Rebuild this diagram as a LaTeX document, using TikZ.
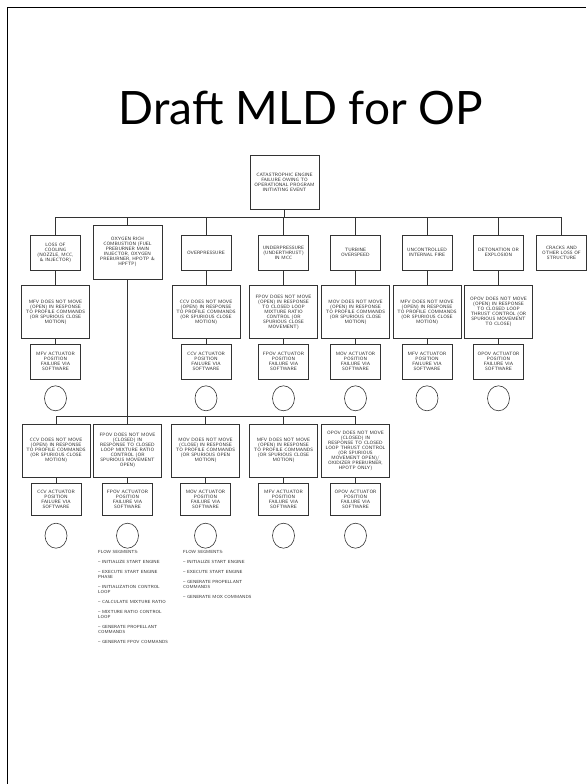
\documentclass[tikz,border=0pt]{standalone}
\usepackage{fontspec}
\newfontfamily\titlefont{Lato}
\usetikzlibrary{positioning, shapes.geometric, calc}

\begin{document}
\begin{tikzpicture}[
    x=1pt, y=1pt,
    node distance=6pt,
    link/.style={
        draw=black!80,
        line width=0.6pt
    },
    event/.style={
        rectangle,
        draw=black!80,
        line width=0.6pt,
        inner sep=0pt,
        align=center,
        text=black!85,
        font=\sffamily\fontsize{4.7}{5}\selectfont
    },
    topevent/.style={
        event,
        minimum width=69,
        minimum height=54
    },
    mode/.style={
        event,
        minimum width=50,
        minimum height=35
    },
    cause/.style={
        event,
        minimum width=68,
        minimum height=53
    },
    actuator/.style={
        event,
        minimum width=50,
        minimum height=35
    },
    undev/.style={
        ellipse,
        draw=black!80,
        line width=0.6pt,
        inner sep=0pt,
        minimum width=22,
        minimum height=25
    },
    flownote/.style={
        align=left,
        inner sep=0pt,
        text=black!85,
        font=\sffamily\fontsize{4.4}{5}\selectfont
    }
]

    \useasboundingbox (0,0) rectangle (586,-784);

    % Frame
    \draw[line width=1.6pt] (7.5,-784) -- (7.5,-7.5) -- (586,-7.5);

    % Title
    \node[font=\titlefont\fontsize{46}{48}\selectfont, anchor=base] (title) at (301,-124) {Draft MLD for OP};

    % Top event
    \node[topevent] (top) at (284.5,-182) {CATASTROPHIC ENGINE\\FAILURE OWING TO\\OPERATIONAL PROGRAM\\INITIATING EVENT};

    % Failure modes
    \node[mode] (l1a) at (55.5,-252.5) {LOSS OF\\COOLING\\(NOZZLE, MCC,\\\& INJECTOR)};
    \node[topevent] (l1b) at (127.5,-252) {OXYGEN RICH\\COMBUSTION (FUEL\\PREBURNER MAIN\\INJECTOR, OXYGEN\\PREBURNER, HPOTP \&\\HPFTP)};
    \node[mode] (l1c) at (206,-252.5) {OVERPRESSURE};
    \node[mode] (l1d) at (283.5,-252.5) {UNDERPRESSURE\\(UNDERTHRUST)\\IN MCC};
    \node[mode] (l1e) at (355.5,-252.5) {TURBINE\\OVERSPEED};
    \node[mode] (l1f) at (427,-252.5) {UNCONTROLLED\\INTERNAL FIRE};
    \node[mode] (l1g) at (498.5,-252.5) {DETONATION OR\\EXPLOSION};
    \node[mode] (l1h) at (561.5,-252.5) {CRACKS AND\\OTHER LOSS OF\\STRUCTURE};

    \foreach \m in {a,b,c,d,e,f,g,h}
        \draw[link] (top.south) -- ++(0,-7.5) -| (l1\m.north);

    % Causes under the failure modes
    \node[cause, below=15pt of l1a] (l2a) {MFV DOES NOT MOVE\\(OPEN) IN RESPONSE\\TO PROFILE COMMANDS\\(OR SPURIOUS CLOSE\\MOTION)};
    \node[cause, below=15pt of l1c] (l2c) {CCV DOES NOT MOVE\\(OPEN) IN RESPONSE\\TO PROFILE COMMANDS\\(OR SPURIOUS CLOSE\\MOTION)};
    \node[cause, below=15pt of l1d] (l2d) {FPOV DOES NOT MOVE\\(OPEN) IN RESPONSE\\TO CLOSED LOOP\\MIXTURE RATIO\\CONTROL (OR\\SPURIOUS CLOSE\\MOVEMENT)};
    \node[cause, below=15pt of l1e] (l2e) {MOV DOES NOT MOVE\\(OPEN) IN RESPONSE\\TO PROFILE COMMANDS\\(OR SPURIOUS CLOSE\\MOTION)};
    \node[cause, below=15pt of l1f] (l2f) {MFV DOES NOT MOVE\\(OPEN) IN RESPONSE\\TO PROFILE COMMANDS\\(OR SPURIOUS CLOSE\\MOTION)};
    \node[cause, below=15pt of l1g] (l2g) {OPOV DOES NOT MOVE\\(OPEN) IN RESPONSE\\TO CLOSED LOOP\\THRUST CONTROL (OR\\SPURIOUS MOVEMENT\\TO CLOSE)};

    % Actuator failures
    \node[actuator, below=5pt of l2a] (acta) {MFV ACTUATOR\\POSITION\\FAILURE VIA\\SOFTWARE};
    \node[actuator, below=5pt of l2c] (actc) {CCV ACTUATOR\\POSITION\\FAILURE VIA\\SOFTWARE};
    \node[actuator, below=5pt of l2d] (actd) {FPOV ACTUATOR\\POSITION\\FAILURE VIA\\SOFTWARE};
    \node[actuator, below=5pt of l2e] (acte) {MOV ACTUATOR\\POSITION\\FAILURE VIA\\SOFTWARE};
    \node[actuator, below=5pt of l2f] (actf) {MFV ACTUATOR\\POSITION\\FAILURE VIA\\SOFTWARE};
    \node[actuator, below=5pt of l2g] (actg) {OPOV ACTUATOR\\POSITION\\FAILURE VIA\\SOFTWARE};

    \foreach \m in {a,c,d,e,f,g} {
        \draw[link] (l1\m) -- (l2\m);
        \draw[link] (l2\m) -- (act\m);
        \node[undev, below=6pt of act\m] (undev\m) {};
    }

    % Oxygen rich branch
    \coordinate (bus) at (127.5,-416);
    \node[cause] (oxa) at (56,-450.5) {CCV DOES NOT MOVE\\(OPEN) IN RESPONSE\\TO PROFILE COMMANDS\\(OR SPURIOUS CLOSE\\MOTION)};
    \node[cause] (oxb) at (127.5,-450.5) {FPOV DOES NOT MOVE\\(CLOSED) IN\\RESPONSE TO CLOSED\\LOOP MIXTURE RATIO\\CONTROL (OR\\SPURIOUS MOVEMENT\\OPEN)};
    \node[cause] (oxc) at (205.5,-450.5) {MOV DOES NOT MOVE\\(CLOSE) IN RESPONSE\\TO PROFILE COMMANDS\\(OR SPURIOUS OPEN\\MOTION)};
    \node[cause] (oxd) at (283.5,-450.5) {MFV DOES NOT MOVE\\(OPEN) IN RESPONSE\\TO PROFILE COMMANDS\\(OR SPURIOUS CLOSE\\MOTION)};
    \node[cause] (oxe) at (355.5,-450.5) {OPOV DOES NOT MOVE\\(CLOSED) IN\\RESPONSE TO CLOSED\\LOOP THRUST CONTROL\\(OR SPURIOUS\\MOVEMENT OPEN)/\\OXIDIZER PREBURNER,\\HPOTP ONLY)};

    \node[actuator, minimum height=32, below=6pt of oxa] (oxacta) {CCV ACTUATOR\\POSITION\\FAILURE VIA\\SOFTWARE};
    \node[actuator, minimum height=32, below=6pt of oxb] (oxactb) {FPOV ACTUATOR\\POSITION\\FAILURE VIA\\SOFTWARE};
    \node[actuator, minimum height=32, below=6pt of oxc] (oxactc) {MOV ACTUATOR\\POSITION\\FAILURE VIA\\SOFTWARE};
    \node[actuator, minimum height=32, below=6pt of oxd] (oxactd) {MFV ACTUATOR\\POSITION\\FAILURE VIA\\SOFTWARE};
    \node[actuator, minimum height=32, below=6pt of oxe] (oxacte) {OPOV ACTUATOR\\POSITION\\FAILURE VIA\\SOFTWARE};

    \draw[link] (l1b.south) -- (bus);
    \foreach \m in {a,b,c,d,e} {
        \draw[link] (bus) -| (ox\m.north);
        \draw[link] (ox\m) -- (oxact\m);
        \node[undev, below=7pt of oxact\m] (oxundev\m) {};
    }

    % Flow segments
    \node[flownote, anchor=north west] (segfpov) at (98,-550) {FLOW SEGMENTS:\\[5pt]
        -- INITIALIZE START ENGINE\\[5pt]
        -- EXECUTE START ENGINE\\PHASE\\[5pt]
        -- INITIALIZATION CONTROL\\LOOP\\[5pt]
        -- CALCULATE MIXTURE RATIO\\[5pt]
        -- MIXTURE RATIO CONTROL\\LOOP\\[5pt]
        -- GENERATE PROPELLANT\\COMMANDS\\[5pt]
        -- GENERATE FPOV COMMANDS};
    \node[flownote, anchor=north west] (segmov) at (183,-550) {FLOW SEGMENTS:\\[5pt]
        -- INITIALIZE START ENGINE\\[5pt]
        -- EXECUTE START ENGINE\\[5pt]
        -- GENERATE PROPELLANT\\COMMANDS\\[5pt]
        -- GENERATE MOX COMMANDS};

\end{tikzpicture}
\end{document}
